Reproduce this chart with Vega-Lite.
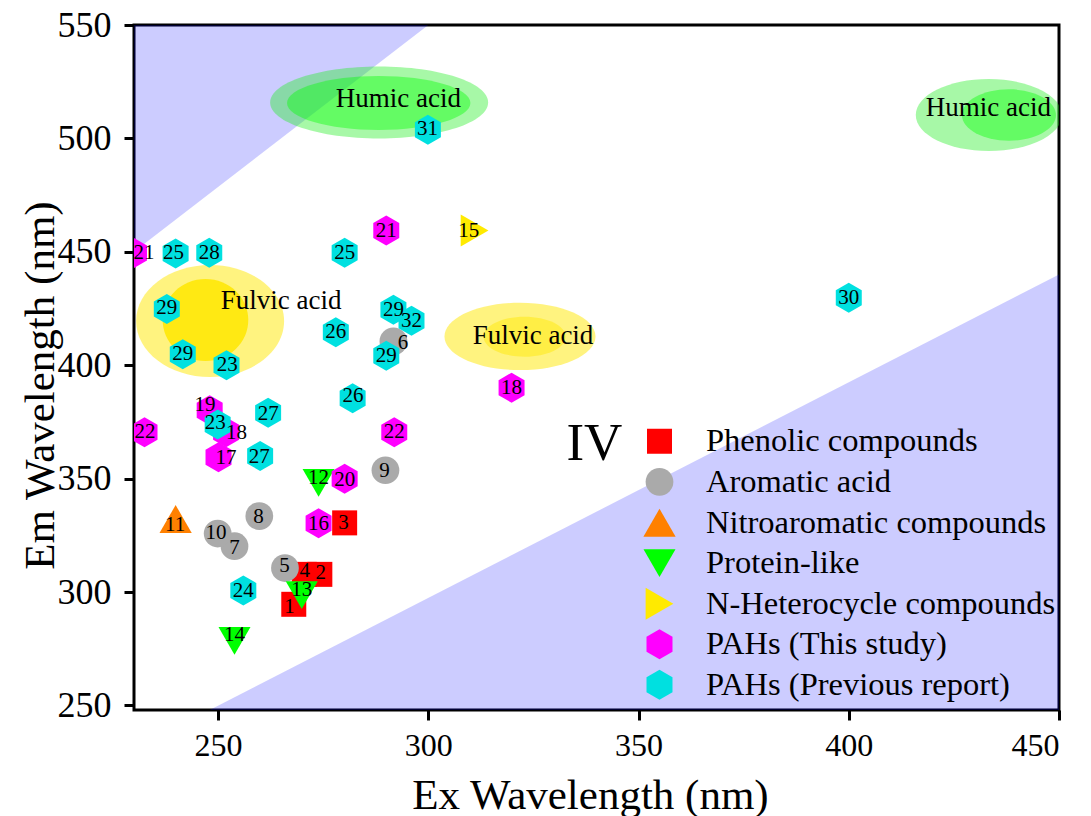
{
  "$schema": "https://vega.github.io/schema/vega-lite/v6.json",
  "width": 925,
  "height": 685,
  "autosize": {"type": "none"},
  "padding": {"left": 134, "top": 25, "right": 32, "bottom": 106},
  "background": "white",
  "config": {
    "font": "Liberation Serif",
    "view": {"stroke": "black", "strokeWidth": 3},
    "axis": {
      "domain": false, "grid": false, "tickColor": "black", "tickWidth": 3, "tickSize": 10,
      "labelColor": "black", "titleColor": "black", "labelFont": "Liberation Serif",
      "titleFont": "Liberation Serif", "titleFontWeight": "normal"
    },
    "legend": {
      "orient": "none", "legendX": 509, "legendY": 400, "padding": 0,
      "labelFont": "Liberation Serif", "labelFontSize": 32.5, "labelColor": "black",
      "labelOffset": 30, "rowPadding": 7.6, "symbolStrokeWidth": 0, "symbolOpacity": 1,
      "labelLimit": 500
    }
  },
  "datasets": {
    "pts": [
      {"n": "1", "ex": 268, "em": 294.6, "lx": 267, "ly": 293.5, "cat": "Phenolic compounds"},
      {"n": "4", "ex": 270.5, "em": 307.8, "lx": 270.6, "ly": 309.2, "cat": "Phenolic compounds"},
      {"n": "2", "ex": 274.2, "em": 307.8, "lx": 274.4, "ly": 308.5, "cat": "Phenolic compounds"},
      {"n": "3", "ex": 280.1, "em": 330.5, "lx": 279.8, "ly": 330.3, "cat": "Phenolic compounds"},
      {"n": "5", "ex": 265.9, "em": 310.6, "lx": 265.8, "ly": 311.6, "cat": "Aromatic acid"},
      {"n": "6", "ex": 291.7, "em": 410.5, "lx": 294, "ly": 409.8, "cat": "Aromatic acid"},
      {"n": "7", "ex": 253.9, "em": 320.2, "lx": 253.9, "ly": 319.3, "cat": "Aromatic acid"},
      {"n": "8", "ex": 259.8, "em": 333.5, "lx": 259.6, "ly": 333.2, "cat": "Aromatic acid"},
      {"n": "9", "ex": 289.8, "em": 353.7, "lx": 289.6, "ly": 353.5, "cat": "Aromatic acid"},
      {"n": "10", "ex": 249.9, "em": 325.8, "lx": 249.5, "ly": 325.9, "cat": "Aromatic acid"},
      {"n": "11", "ex": 239.9, "em": 332.2, "lx": 239.8, "ly": 329.5, "cat": "Nitroaromatic compounds"},
      {"n": "12", "ex": 273.9, "em": 348.1, "lx": 273.9, "ly": 350.1, "cat": "Protein-like"},
      {"n": "13", "ex": 269.9, "em": 298.6, "lx": 269.9, "ly": 300.9, "cat": "Protein-like"},
      {"n": "14", "ex": 253.9, "em": 278.5, "lx": 253.9, "ly": 281, "cat": "Protein-like"},
      {"n": "15", "ex": 311, "em": 459.4, "lx": 309.6, "ly": 459, "cat": "N-Heterocycle compounds"},
      {"n": "18", "ex": 251.9, "em": 370.5, "lx": 254.4, "ly": 370, "cat": "PAHs (This study)"},
      {"n": "17", "ex": 250.1, "em": 359.4, "lx": 251.9, "ly": 359, "cat": "PAHs (This study)"},
      {"n": "16", "ex": 273.9, "em": 330.3, "lx": 273.9, "ly": 330, "cat": "PAHs (This study)"},
      {"n": "19", "ex": 248, "em": 380.2, "lx": 246.9, "ly": 382.5, "cat": "PAHs (This study)"},
      {"n": "20", "ex": 280.1, "em": 350, "lx": 280.1, "ly": 349.4, "cat": "PAHs (This study)"},
      {"n": "21", "ex": 290, "em": 459.4, "lx": 290, "ly": 459.3, "cat": "PAHs (This study)"},
      {"n": "21", "ex": 230, "em": 449.5, "lx": 232.4, "ly": 449.5, "cat": "PAHs (This study)"},
      {"n": "22", "ex": 232.5, "em": 370.4, "lx": 232.6, "ly": 370.4, "cat": "PAHs (This study)"},
      {"n": "22", "ex": 291.9, "em": 370.4, "lx": 291.9, "ly": 370.4, "cat": "PAHs (This study)"},
      {"n": "18", "ex": 319.8, "em": 390.1, "lx": 319.8, "ly": 390, "cat": "PAHs (This study)"},
      {"n": "23", "ex": 249.9, "em": 373.9, "lx": 249.3, "ly": 374.7, "cat": "PAHs (Previous report)"},
      {"n": "23", "ex": 252, "em": 400, "lx": 252.2, "ly": 400.1, "cat": "PAHs (Previous report)"},
      {"n": "24", "ex": 256, "em": 300.7, "lx": 256, "ly": 300.6, "cat": "PAHs (Previous report)"},
      {"n": "25", "ex": 239.9, "em": 449.3, "lx": 239.4, "ly": 449.3, "cat": "PAHs (Previous report)"},
      {"n": "25", "ex": 280.1, "em": 449.6, "lx": 280.1, "ly": 449.6, "cat": "PAHs (Previous report)"},
      {"n": "26", "ex": 278, "em": 414.5, "lx": 278, "ly": 414.5, "cat": "PAHs (Previous report)"},
      {"n": "26", "ex": 282, "em": 385.4, "lx": 282.1, "ly": 386.5, "cat": "PAHs (Previous report)"},
      {"n": "27", "ex": 261.9, "em": 379, "lx": 261.9, "ly": 378.5, "cat": "PAHs (Previous report)"},
      {"n": "27", "ex": 260, "em": 360, "lx": 259.8, "ly": 359.7, "cat": "PAHs (Previous report)"},
      {"n": "28", "ex": 247.9, "em": 449.6, "lx": 247.9, "ly": 449.6, "cat": "PAHs (Previous report)"},
      {"n": "29", "ex": 237.8, "em": 424.8, "lx": 237.8, "ly": 425.1, "cat": "PAHs (Previous report)"},
      {"n": "29", "ex": 241.6, "em": 404.8, "lx": 241.6, "ly": 404.8, "cat": "PAHs (Previous report)"},
      {"n": "29", "ex": 291.7, "em": 424.5, "lx": 291.7, "ly": 424.5, "cat": "PAHs (Previous report)"},
      {"n": "32", "ex": 296, "em": 419.6, "lx": 296, "ly": 419.6, "cat": "PAHs (Previous report)"},
      {"n": "29", "ex": 290, "em": 404.2, "lx": 290, "ly": 404.2, "cat": "PAHs (Previous report)"},
      {"n": "30", "ex": 400, "em": 429.7, "lx": 400, "ly": 429.7, "cat": "PAHs (Previous report)"},
      {"n": "31", "ex": 299.9, "em": 503.8, "lx": 299.8, "ly": 504, "cat": "PAHs (Previous report)"}
    ]
  },
  "encoding": {
    "x": {"field": "ex", "type": "quantitative",
      "scale": {"domain": [230, 450], "nice": false, "zero": false},
      "axis": {"values": [250, 300, 350, 400, 450], "labelFontSize": 32, "labelPadding": 10,
        "title": "Ex Wavelength (nm)", "titleFontSize": 43, "titleX": 456, "titleY": 85,
        "titleBaseline": "middle", "titleAlign": "center"}},
    "y": {"field": "em", "type": "quantitative",
      "scale": {"domain": [248, 550], "nice": false, "zero": false},
      "axis": {"values": [250, 300, 350, 400, 450, 500, 550], "labelFontSize": 36, "labelPadding": 13,
        "title": "Em Wavelength (nm)", "titleFontSize": 43, "titleX": -94, "titleY": 360,
        "titleAngle": -90, "titleBaseline": "middle", "titleAlign": "center"}}
  },
  "layer": [
    {"data": {"values": [{"ex": 230, "em": 450}, {"ex": 300, "em": 550}]},
     "mark": {"type": "area", "color": "#0000ff", "opacity": 0.2, "clip": true},
     "encoding": {"y2": {"datum": 550}}},
    {"data": {"values": [{"ex": 248, "em": 248}, {"ex": 450, "em": 440}]},
     "mark": {"type": "area", "color": "#0000ff", "opacity": 0.2, "clip": true},
     "encoding": {"y2": {"datum": 248}}},
    {"data": {"values": [{"ex": 288.3, "em": 515.8}]},
     "mark": {"type": "point", "filled": true, "clip": true, "fill": "#22ee22", "fillOpacity": 0.4, "strokeWidth": 0, "size": 47524,
       "shape": "M-1,0A1,0.33,0,1,0,1,0A1,0.33,0,1,0,-1,0Z"}},
    {"data": {"values": [{"ex": 288.2, "em": 515.6}]},
     "mark": {"type": "point", "filled": true, "clip": true, "fill": "#00ff00", "fillOpacity": 0.4, "strokeWidth": 0, "size": 33636,
       "shape": "M-1,0A1,0.294,0,1,0,1,0A1,0.294,0,1,0,-1,0Z"}},
    {"data": {"values": [{"ex": 433.3, "em": 510.3}]},
     "mark": {"type": "point", "filled": true, "clip": true, "fill": "#22ee22", "fillOpacity": 0.4, "strokeWidth": 0, "size": 21316,
       "shape": "M-1,0A1,0.493,0,1,0,1,0A1,0.493,0,1,0,-1,0Z"}},
    {"data": {"values": [{"ex": 438.1, "em": 510.3}]},
     "mark": {"type": "point", "filled": true, "clip": true, "fill": "#00ff00", "fillOpacity": 0.4, "strokeWidth": 0, "size": 8836,
       "shape": "M-1,0A1,0.547,0,1,0,1,0A1,0.547,0,1,0,-1,0Z"}},
    {"data": {"values": [{"ex": 248.1, "em": 419.5}]},
     "mark": {"type": "point", "filled": true, "clip": true, "fill": "#ffe800", "fillOpacity": 0.5, "strokeWidth": 0, "size": 21904,
       "shape": "M-1,0A1,0.757,0,1,0,1,0A1,0.757,0,1,0,-1,0Z"}},
    {"data": {"values": [{"ex": 247.0, "em": 419.9}]},
     "mark": {"type": "point", "filled": true, "clip": true, "fill": "#ffe600", "fillOpacity": 0.85, "strokeWidth": 0, "size": 7327,
       "shape": "M-1,0A1,0.958,0,1,0,1,0A1,0.958,0,1,0,-1,0Z"}},
    {"data": {"values": [{"ex": 321.8, "em": 412.7}]},
     "mark": {"type": "point", "filled": true, "clip": true, "fill": "#ffe800", "fillOpacity": 0.5, "strokeWidth": 0, "size": 22801,
       "shape": "M-1,0A1,0.446,0,1,0,1,0A1,0.446,0,1,0,-1,0Z"}},
    {"data": {"values": [{"ex": 322.9, "em": 412.6}]},
     "mark": {"type": "point", "filled": true, "clip": true, "fill": "#ffe800", "fillOpacity": 0.45, "strokeWidth": 0, "size": 6724,
       "shape": "M-1,0A1,0.488,0,1,0,1,0A1,0.488,0,1,0,-1,0Z"}},
    {"data": {"name": "pts"},
     "mark": {"type": "point", "filled": true, "opacity": 1, "strokeWidth": 0, "clip": true},
     "encoding": {
       "color": {"field": "cat", "type": "nominal",
         "scale": {"domain": ["Phenolic compounds", "Aromatic acid", "Nitroaromatic compounds", "Protein-like", "N-Heterocycle compounds", "PAHs (This study)", "PAHs (Previous report)"],
           "range": ["#ff0000", "#aaaaaa", "#ff8000", "#00ff00", "#ffea00", "#ff00ff", "#00e0e0"]},
         "legend": {"title": null}},
       "shape": {"field": "cat", "type": "nominal",
         "scale": {"domain": ["Phenolic compounds", "Aromatic acid", "Nitroaromatic compounds", "Protein-like", "N-Heterocycle compounds", "PAHs (This study)", "PAHs (Previous report)"],
           "range": ["square", "circle", "triangle-up", "triangle-down", "triangle-right",
             "M0,-1L0.866,-0.5L0.866,0.5L0,1L-0.866,0.5L-0.866,-0.5Z",
             "M0,-1L0.866,-0.5L0.866,0.5L0,1L-0.866,0.5L-0.866,-0.5Z"]},
         "legend": {"title": null}},
       "size": {"field": "cat", "type": "nominal",
         "scale": {"type": "ordinal", "domain": ["Phenolic compounds", "Aromatic acid", "Nitroaromatic compounds", "Protein-like", "N-Heterocycle compounds", "PAHs (This study)", "PAHs (Previous report)"],
           "range": [625, 770, 1040, 1024, 1024, 900, 900]},
         "legend": {"title": null}}
     }},
    {"data": {"name": "pts"},
     "mark": {"type": "text", "font": "Liberation Serif", "fontSize": 21, "color": "black", "align": "center", "baseline": "middle"},
     "encoding": {
       "x": {"field": "lx", "type": "quantitative",
         "scale": {"domain": [230, 450], "nice": false, "zero": false},
         "axis": {"values": [250, 300, 350, 400, 450], "labelFontSize": 32, "labelPadding": 10,
           "title": "Ex Wavelength (nm)", "titleFontSize": 43, "titleX": 456, "titleY": 85,
           "titleBaseline": "middle", "titleAlign": "center"}},
       "y": {"field": "ly", "type": "quantitative",
         "scale": {"domain": [248, 550], "nice": false, "zero": false},
         "axis": {"values": [250, 300, 350, 400, 450, 500, 550], "labelFontSize": 36, "labelPadding": 13,
           "title": "Em Wavelength (nm)", "titleFontSize": 43, "titleX": -94, "titleY": 360,
           "titleAngle": -90, "titleBaseline": "middle", "titleAlign": "center"}},
       "text": {"field": "n"}
     }},
    {"data": {"values": [
       {"ex": 292.9, "em": 517.3, "t": "Humic acid"},
       {"ex": 433.2, "em": 513.3, "t": "Humic acid"},
       {"ex": 265, "em": 428.5, "t": "Fulvic acid"},
       {"ex": 324.9, "em": 413, "t": "Fulvic acid"}]},
     "mark": {"type": "text", "font": "Liberation Serif", "fontSize": 27, "color": "black", "align": "center", "baseline": "middle"},
     "encoding": {"text": {"field": "t"}}},
    {"data": {"values": [{"ex": 339.5, "em": 365.3, "t": "IV"}]},
     "mark": {"type": "text", "font": "Liberation Serif", "fontSize": 53, "color": "black", "align": "center", "baseline": "middle"},
     "encoding": {"text": {"field": "t"}}}
  ]
}
